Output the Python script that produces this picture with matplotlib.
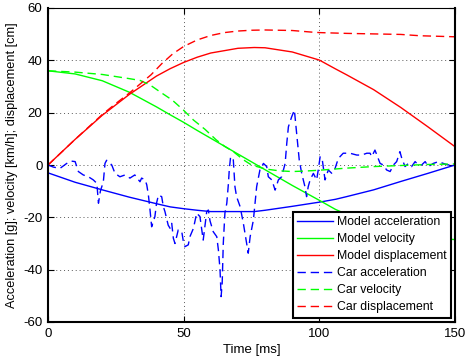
import matplotlib
matplotlib.use("Agg")
import matplotlib.pyplot as plt

plt.rcParams['font.family'] = ['Liberation Sans', 'DejaVu Sans']
plt.rcParams['axes.unicode_minus'] = False

# model curves
model_t = [0, 10, 20, 30, 40, 45, 50, 55, 60, 70, 76, 80, 90, 100, 106, 110, 120, 130, 140, 150]
model_acc = [-3, -6.6, -9.5, -12.3, -14.8, -16.0, -16.7, -17.3, -17.8, -17.8, -17.8, -17.3,
             -15.8, -14.2, -13.1, -12.1, -9.5, -6.3, -3.2, 0]
model_vel = [36, 34.8, 32.2, 27.8, 22.2, 19.2, 16.3, 13.2, 10.2, 4.2, 0.6, -1.8,
             -7.8, -13.5, -17.0, -18.8, -22.9, -25.9, -27.8, -28.5]
model_disp = [0, 9.8, 19.0, 27.0, 34.0, 36.8, 39.2, 41.2, 42.8, 44.6, 44.9, 44.8,
              43.2, 40.1, 36.7, 34.5, 28.8, 22.0, 14.6, 7.0]

# car measurements
car_t = [0, 2, 4.4, 6.9, 8.5, 10, 11.2, 13, 14.9, 16.7, 18, 18.6, 19.3, 20.4, 21, 21.6, 22.5,
         23.5, 24.7, 26.5, 28.4, 30.2, 32, 33.9, 34.5, 35.8, 36.4, 37, 37.6, 38.2, 39.4, 40,
         40.7, 41.9, 42.5, 43.1, 44.3, 45, 45.6, 46.2, 46.8, 48, 49.3, 49.9, 50.5, 51.7, 52.3,
         53.6, 54.8, 56, 56.7, 57.2, 57.9, 58.5, 59.1, 59.7, 60.9, 62.2, 62.8, 63.4, 63.8, 64.2,
         64.6, 65.2, 65.9, 66.5, 66.8, 67.3, 68.3, 68.9, 69.5, 70.8, 72, 73.2, 73.8, 74.5, 75.7,
         76.3, 76.9, 78.1, 79.4, 80.6, 81.2, 82.5, 83.7, 84.9, 86.1, 87.4, 88, 88.6, 89.8, 90.8,
         91.4, 92, 92.6, 93.5, 94.7, 95.3, 95.9, 96.6, 97.8, 99, 99.6, 100.3, 101.1, 102.1,
         103.3, 104.6, 105.8, 107, 108.8, 110.1, 111.3, 113.8, 115.6, 117.5, 118.7, 119.3,
         120.5, 121.2, 122.4, 123.6, 124.8, 126.1, 127.3, 128.5, 129.7, 130.4, 131.6, 132.8,
         134, 135.3, 136.5, 137.7, 139, 140.2, 142, 143.9, 145.7, 147.5, 149.4, 150]
car_acc = [0, -0.8, -1.3, 0.6, 1.5, 1.3, -2.5, -3.8, -4.5, -5.7, -7, -14.6, -10, -6.4, 0.6, 1.8,
           1.0, 0, -3.2, -4.5, -3.8, -5, -3.8, -6.4, -5, -5.7, -7.6, -11.5, -17.2, -23.6, -19.7,
           -14.6, -11.5, -12.1, -15.9, -17.8, -23, -24.2, -22.3, -28, -30, -24.8, -25.5, -29.3,
           -31.2, -30.5, -27.4, -24.2, -18.4, -19.7, -24.8, -28.7, -23, -17.8, -17.2, -21.3,
           -25.5, -27.4, -32.5, -40, -50.3, -45, -30, -18.4, -14.6, -7, -1.9, 3.2, 1.9, -8.3,
           -12.1, -15.9, -22.3, -29.9, -33.7, -27.4, -21, -14.6, -8.3, -1.9, 0.6, -0.6, -4.5,
           -5.7, -9.6, -5.7, -4.5, 0.6, 8.3, 14.6, 18.4, 21, 14.6, 8.3, 1.9, -3.2, -8.3, -12.1,
           -8.3, -5.7, -3.2, -5.7, -1.9, 3.2, 1.9, -5.7, -1.9, -3.2, -1.3, 2.5, 4.5, 4.5, 4.5,
           3.8, 3.8, 4.5, 4.5, 3.2, 5.7, 3.8, 0.6, 0, -1.9, -2.5, 0, 1.3, 5.1, 2.5, -0.6, 0.6,
           -0.6, 1.3, 0, 0, 1.3, -0.6, 0.6, 1.3, 0.6, 0, 0.6, 0.5]

car_vt = [0, 10, 20, 25, 30, 34, 37.6, 41.5, 45.8, 49.9, 53.6, 57.9, 62, 65, 68.3, 72, 75, 80,
          85, 90, 95, 100, 110, 120, 130, 140, 150]
car_vel = [36, 35.5, 34.6, 33.8, 33.0, 32.3, 30.6, 27.8, 24.8, 21.0, 17.2, 13.6, 9.6, 7.2,
           5.1, 2.0, 0, -1.5, -2.2, -2.5, -2.3, -2.0, -1.2, -0.6, -0.2, 0.2, 0.4]

car_dt = [0, 10, 20, 25, 30, 34, 38, 42, 46, 50, 55, 60, 65, 70, 75, 80, 90, 97, 100, 110,
          120, 130, 137, 150]
car_disp = [0, 9.8, 19.3, 23.5, 27.5, 31.0, 34.5, 38.8, 42.5, 45.3, 47.8, 49.5, 50.6, 51.2,
            51.5, 51.6, 51.4, 50.8, 50.6, 50.3, 50.1, 49.9, 49.4, 49.0]

fig = plt.figure(figsize=(4.65, 3.58), dpi=100)
ax = fig.add_axes([48/465, 1 - 322/358, 407/465, 314/358])

dash = (6, 3.5)
ax.plot(model_t, model_acc, color='b', lw=1.0, label='Model acceleration')
ax.plot(model_t, model_vel, color=(0, 1, 0), lw=1.0, label='Model velocity')
ax.plot(model_t, model_disp, color='r', lw=1.0, label='Model displacement')
ax.plot(car_t, car_acc, color='b', lw=1.0, dashes=dash, label='Car acceleration')
ax.plot(car_vt, car_vel, color=(0, 1, 0), lw=1.0, dashes=dash, label='Car velocity')
ax.plot(car_dt, car_disp, color='r', lw=1.0, dashes=dash, label='Car displacement')

ax.set_xlim(0, 150)
ax.set_ylim(-60, 60)
ax.set_xticks([0, 50, 100, 150])
ax.set_yticks([-60, -40, -20, 0, 20, 40, 60])
ax.grid(True, linestyle=(0, (1, 3)), color='0.35', lw=0.7)
ax.tick_params(direction='in', length=4, top=True, right=True, labelsize=9.5, pad=4)
for side in ['left', 'right', 'bottom']:
    ax.spines[side].set_linewidth(1.5)
ax.spines['top'].set_linewidth(0.8)

ax.set_xlabel('Time [ms]', fontsize=9.5, labelpad=3)
ax.set_ylabel('Acceleration [g]; velocity [km/h]; displacement [cm]', fontsize=9.2, labelpad=4)

leg = ax.legend(loc='lower right', fontsize=8.8, fancybox=False, framealpha=1,
                edgecolor='k', borderaxespad=0.35, handlelength=2.9, labelspacing=0.42,
                handletextpad=0.35, borderpad=0.35)
leg.get_frame().set_linewidth(1.5)

fig.savefig('out.png', dpi=100)
